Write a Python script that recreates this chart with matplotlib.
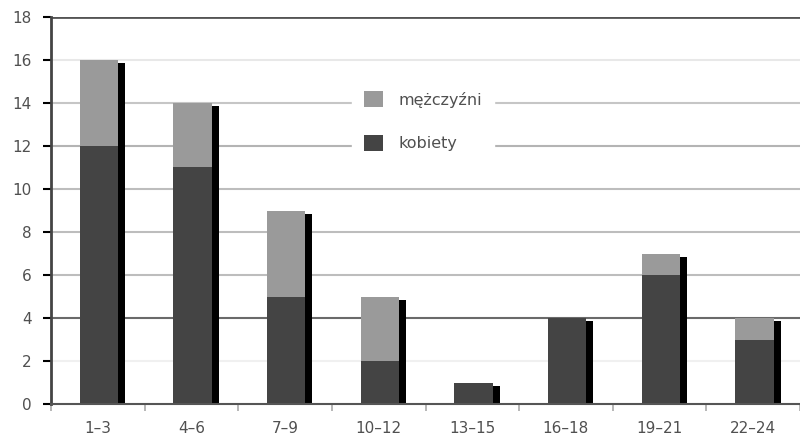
import matplotlib
matplotlib.use("Agg")
import matplotlib.pyplot as plt
import numpy as np
from matplotlib.patches import Patch

plt.rcParams['font.family'] = ['DejaVu Sans']

categories = ["1–3", "4–6", "7–9", "10–12", "13–15", "16–18", "19–21", "22–24"]
kobiety = [12, 11, 5, 2, 1, 4, 6, 3]
mezczyzni = [4, 3, 4, 3, 0, 0, 1, 1]
y_ticks = [0, 2, 4, 6, 8, 10, 12, 14, 16, 18]

dark = "#444444"
light = "#9a9a9a"
text_col = "#505050"

fig = plt.figure(figsize=(8.0, 4.36), dpi=100)
ax = fig.add_axes([51 / 800, 32 / 436, 749 / 800, 387 / 436])

x = np.arange(len(categories))
k = np.array(kobiety, dtype=float)
m = np.array(mezczyzni, dtype=float)
total = k + m
bw = 0.41
xc = x + 0.013

# grid lines (individual shades)
grid_cols = {0: "#555555", 2: "#f0f0f0", 4: "#6a6a6a", 6: "#bdbdbd",
             8: "#bdbdbd", 10: "#bdbdbd", 12: "#b4b4b4", 14: "#c6c6c6",
             16: "#e8e8e8", 18: "#555555"}
for yv, c in grid_cols.items():
    if yv == 0:
        continue
    ax.axhline(yv, color=c, lw=2.0 if yv == 18 else 1.5, zorder=0.5)

# drop shadow behind each stacked bar
ax.bar(xc + 0.075, total - 0.14, width=bw, color="black", zorder=1)
ax.bar(xc, k, width=bw, color=dark, edgecolor="none", zorder=2)
ax.bar(xc, m, width=bw, bottom=k, color=light, edgecolor="none", zorder=2)

ax.set_xlim(-0.5, 7.5)
ax.set_ylim(0, 18)

for s in ["top", "right"]:
    ax.spines[s].set_visible(False)
ax.spines["left"].set_color("#444444")
ax.spines["left"].set_linewidth(2.0)
ax.spines["bottom"].set_color("#555555")
ax.spines["bottom"].set_linewidth(1.5)
ax.spines["left"].set_zorder(3)
ax.spines["bottom"].set_zorder(3)

ax.set_yticks(y_ticks)
ax.set_yticklabels([str(v) for v in y_ticks])
ax.tick_params(axis="y", length=6, width=1.5,
               labelsize=11, labelcolor=text_col, pad=8)
for tick, yv in zip(ax.yaxis.get_major_ticks(), y_ticks):
    tick.tick1line.set_color(grid_cols[yv])

ax.set_xticks(x)
ax.set_xticklabels(categories)
ax.tick_params(axis="x", which="major", length=0, labelsize=11,
               labelcolor=text_col, pad=12)
ax.set_xticks(np.arange(-0.5, 7.6, 1.0), minor=True)
ax.tick_params(axis="x", which="minor", length=5, width=1.2, color="#aaaaaa")

handles = [Patch(facecolor=light, edgecolor="none", label="mężczyźni"),
           Patch(facecolor=dark, edgecolor="none", label="kobiety")]
leg = fig.legend(handles=handles, loc="upper left",
                 bbox_to_anchor=(352 / 800, 1 - 79 / 436),
                 frameon=True, fancybox=False, framealpha=1.0,
                 edgecolor="white", facecolor="white",
                 fontsize=11.5, handlelength=1.15, handleheight=1.15,
                 handletextpad=0.95, labelspacing=1.7, borderpad=0.78,
                 borderaxespad=0)
for t in leg.get_texts():
    t.set_color(text_col)

fig.savefig("out.png", dpi=100, facecolor="white")
